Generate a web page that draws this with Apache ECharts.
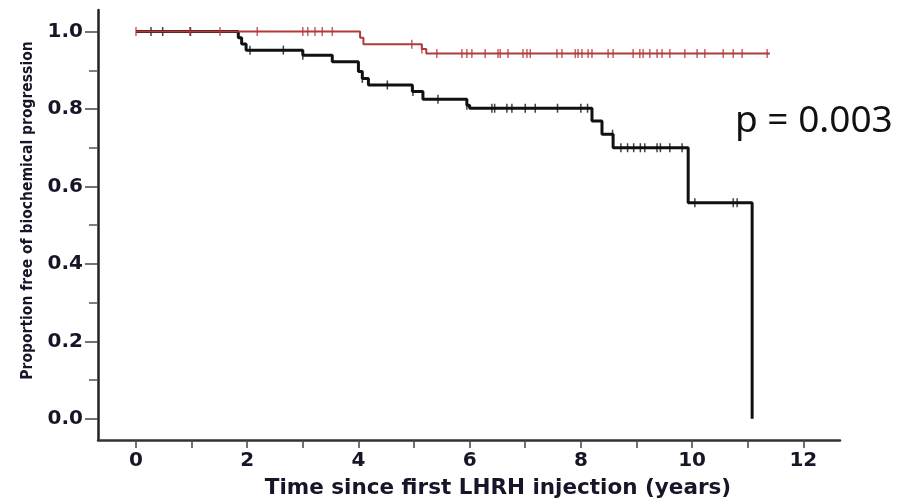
<!DOCTYPE html>
<html>
<head>
<meta charset="utf-8">
<script src="https://cdn.jsdelivr.net/npm/echarts@6/dist/echarts.min.js"></script>
<style>
  html, body { margin: 0; padding: 0; background: #fff; }
  #km { width: 903px; height: 504px; }
</style>
</head>
<body>
<div id="km"></div>
<script>
// Kaplan-Meier steps (time in years, proportion free of progression)
var redTimes = [0, 4.03, 4.09, 5.14, 5.22, 11.4];
var redSurv  = [1, 0.984, 0.967, 0.955, 0.943, 0.943];
var blackTimes = [0, 1.84, 1.9, 1.98, 3.0, 3.53, 4.0, 4.07, 4.18, 4.97, 5.16, 5.95, 6.0, 8.2, 8.38, 8.58, 9.93, 11.08];
var blackSurv  = [1, 0.984, 0.968, 0.952, 0.939, 0.922, 0.897, 0.879, 0.862, 0.845, 0.825, 0.81, 0.802, 0.769, 0.735, 0.70, 0.558, 0];

// censored observations (tick marks)
var redCensor = [0, 0.97, 1.51, 2.18, 3.0, 3.09, 3.22, 3.35, 3.53, 4.96, 5.14, 5.41, 5.86, 5.95, 6.04, 6.28, 6.51, 6.55, 6.69,
  6.96, 7.03, 7.09, 7.57, 7.66, 7.9, 7.95, 8.02, 8.13, 8.2, 8.49, 8.58, 8.94, 9.06, 9.12, 9.24, 9.37, 9.46, 9.6,
  9.87, 10.09, 10.23, 10.56, 10.74, 10.9, 11.35];
var blackCensor = [0.27, 0.48, 0.98, 2.05, 2.65, 3.0, 4.07, 4.52, 4.98, 5.43, 5.95, 6.4, 6.45, 6.67, 6.76, 7.0, 7.18, 7.58,
  8.0, 8.12, 8.57, 8.72, 8.84, 8.95, 9.07, 9.15, 9.37, 9.43, 9.6, 9.82, 10.05, 10.74, 10.81];

var xMajor = [0, 2, 4, 6, 8, 10, 12];
var xTicks = [0, 1, 2, 3, 4, 5, 6, 7, 8, 9, 10, 11, 12];
var yMajor = [0, 0.2, 0.4, 0.6, 0.8, 1.0];
var yMinor = [0.1, 0.3, 0.5, 0.7, 0.9];

function pairs(ts, ss) {
  return ts.map(function (t, i) { return [t, ss[i]]; });
}
// value of the step curve at time t
function stepAt(ts, ss, t) {
  var v = ss[0];
  for (var i = 0; i < ts.length; i++) { if (ts[i] <= t) v = ss[i]; }
  return v;
}
function censorPts(cs, ts, ss) {
  return cs.map(function (t) { return [t, stepAt(ts, ss, t)]; });
}

var red = '#b23a3a';
var ink = '#161628';
var lblFont = { fontFamily: 'DejaVu Sans', fontWeight: 'bold', fontSize: 20, color: ink };

var chart = echarts.init(document.getElementById('km'));
var option = {
  animation: false,
  grid: { left: 98, right: 63, top: 10, bottom: 61 },
  xAxis: {
    type: 'value', min: -0.683, max: 12.66,
    name: 'Time since first LHRH injection (years)',
    nameLocation: 'middle', nameGap: 37,
    nameTextStyle: { fontFamily: 'DejaVu Sans', fontWeight: 'bold', fontSize: 21.5, color: ink, padding: [0, 0, 0, 58] },
    splitLine: { show: false },
    axisLine: { onZero: false, lineStyle: { color: '#333', width: 2.5 } },
    axisTick: { customValues: xTicks, length: 8, lineStyle: { color: '#444', width: 1.5 } },
    axisLabel: Object.assign({ customValues: xMajor, margin: 11 }, lblFont)
  },
  yAxis: [{
    type: 'value', min: -0.0546, max: 1.0556,
    name: 'Proportion free of biochemical progression',
    nameLocation: 'middle', nameRotate: 90, nameGap: 62,
    nameTextStyle: { fontFamily: 'DejaVu Sans Condensed', fontWeight: 'bold', fontSize: 15.5, color: ink, padding: [0, 0, 0, 29] },
    splitLine: { show: false },
    axisLine: { show: true, onZero: false, lineStyle: { color: '#222', width: 2.5 } },
    axisTick: { customValues: yMajor, length: 13, lineStyle: { color: '#444', width: 1.5 } },
    axisLabel: Object.assign({ customValues: yMajor, margin: 15, formatter: function (v) { return v.toFixed(1); } }, lblFont)
  }, {
    type: 'value', min: -0.0546, max: 1.0556, position: 'left',
    splitLine: { show: false },
    axisLine: { show: false, onZero: false },
    axisTick: { customValues: yMinor, length: 9, lineStyle: { color: '#555', width: 1.5 } },
    axisLabel: { show: false }
  }],
  series: [
    {
      type: 'line', step: 'end', data: pairs(redTimes, redSurv),
      showSymbol: false, lineStyle: { color: red, width: 2 }, z: 3
    },
    {
      type: 'line', step: 'end', data: pairs(blackTimes, blackSurv),
      showSymbol: false, lineStyle: { color: '#111', width: 3 }, z: 2
    },
    {
      type: 'scatter', data: censorPts(blackCensor, blackTimes, blackSurv),
      symbol: 'rect', symbolSize: [1.5, 9], itemStyle: { color: '#111' }, z: 2
    },
    {
      type: 'scatter', data: censorPts(redCensor, redTimes, redSurv),
      symbol: 'rect', symbolSize: [1.5, 9], itemStyle: { color: red }, z: 4
    }
  ],
  graphic: [{
    type: 'text', left: 735, top: 103,
    style: { text: 'p = 0.003', font: '37px "Noto Sans"', fill: '#111' }
  }]
};
chart.setOption(option);
</script>
</body>
</html>
